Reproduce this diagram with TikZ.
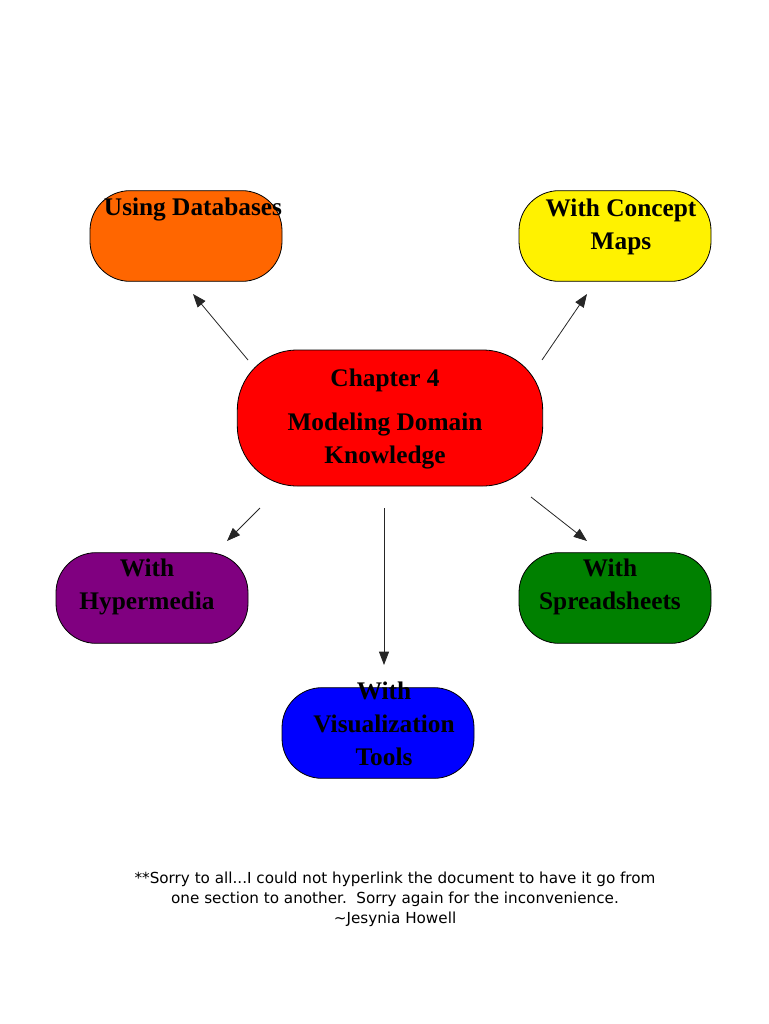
\documentclass[tikz,border=0pt]{standalone}
\usepackage{fontspec}
\setmainfont{Liberation Serif}
\newfontfamily\notefont{DejaVu Sans}
\usetikzlibrary{arrows.meta}

\tikzset{
  topic/.style={draw=black, line width=0.6pt, rounded corners=30pt,
    minimum width=144pt, minimum height=68pt, inner sep=0pt},
  lbl/.style={font=\bfseries\fontsize{19}{24.75}\selectfont, align=center,
    inner sep=0pt, anchor=base},
  arr/.style={-{Triangle[length=10pt,width=7.5pt]}, line width=0.6pt, draw=black!85}
}

\begin{document}
\begin{tikzpicture}[x=0.75pt, y=-0.75pt]
    \useasboundingbox (0,0) rectangle (768,1024);

    % Kotak
    \node[topic, fill={rgb,255:red,255;green,102;blue,0}] (db) at (186,236) {};
    \node[topic, fill=yellow] (cm) at (615,236) {};
    \node[topic, fill=red, rounded corners=45pt,
          minimum width=229pt, minimum height=102pt] (chap) at (390,418) {};
    \node[topic, fill={rgb,255:red,128;green,0;blue,128}] (hm) at (152,598) {};
    \node[topic, fill={rgb,255:red,0;green,128;blue,0}] (ss) at (615,598) {};
    \node[topic, fill=blue] (vt) at (378,733) {};

    % Teks (base = baris terakhir)
    \node[lbl] (dbtxt) at (193,215) {Using Databases};
    \node[lbl] (cmtxt) at (621,249) {With Concept\\Maps};
    \node[lbl] (chtxt) at (385,463) {Chapter 4\\[8pt]Modeling Domain\\Knowledge};
    \node[lbl] (hmtxt) at (147,609) {With\\Hypermedia};
    \node[lbl] (sstxt) at (610,609) {With\\Spreadsheets};
    \node[lbl] (vttxt) at (384,765) {With\\Visualization\\Tools};

    % Ujung panah
    \coordinate (s1) at (248,360); \coordinate (e1) at (193,294);
    \coordinate (s2) at (542,360); \coordinate (e2) at (587,294);
    \coordinate (s3) at (260,508); \coordinate (e3) at (227,541);
    \coordinate (s4) at (384,508); \coordinate (e4) at (384,665);
    \coordinate (s5) at (531,497); \coordinate (e5) at (587,541);

    \foreach \i in {1,...,5}
        \draw[arr] (s\i) -- (e\i);

    % Catatan
    \node[font=\notefont\fontsize{11.4}{15}\selectfont, align=center, anchor=base] (note) at (395,923)
        {**Sorry to all...I could not hyperlink the document to have it go from\\
         one section to another.\ \ Sorry again for the inconvenience.\\
         \textasciitilde Jesynia Howell};
\end{tikzpicture}
\end{document}
